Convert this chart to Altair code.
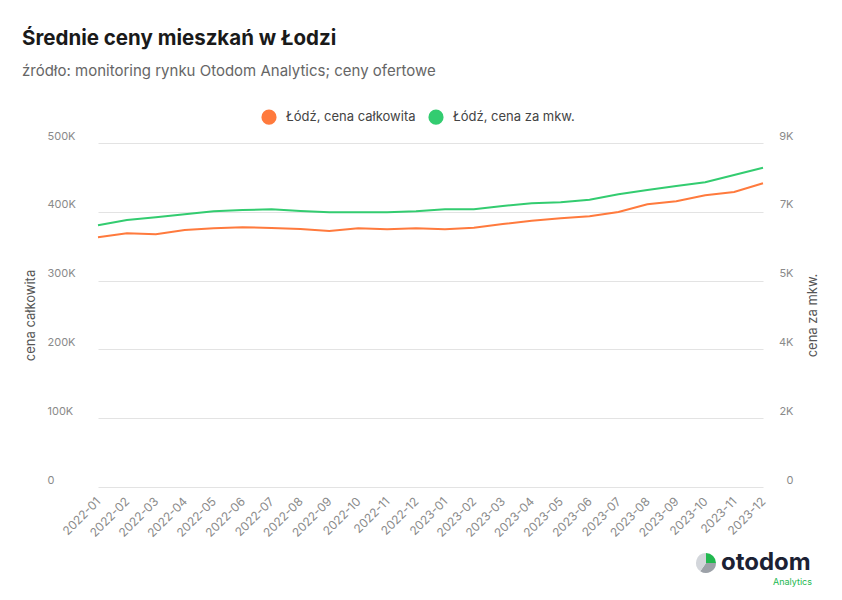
import altair as alt
import pandas as pd

months = ["2022-01","2022-02","2022-03","2022-04","2022-05","2022-06","2022-07","2022-08",
          "2022-09","2022-10","2022-11","2022-12","2023-01","2023-02","2023-03","2023-04",
          "2023-05","2023-06","2023-07","2023-08","2023-09","2023-10","2023-11","2023-12"]
total_price = [362900, 368800, 367300, 373500, 376000, 377500, 376500, 375000,
               372100, 376000, 374500, 376000, 374500, 376900, 382300, 387100,
               390500, 393500, 399700, 410900, 415200, 424000, 428800, 441400]
sqm_price = [6846, 6985, 7055, 7134, 7212, 7246, 7265, 7220,
             7186, 7186, 7186, 7212, 7265, 7265, 7351, 7422,
             7448, 7516, 7657, 7770, 7874, 7971, 8162, 8353]
series_names = ["Łódź, cena całkowita", "Łódź, cena za mkw."]
series_colors = ["#ff7a3d", "#33cc70"]
left_ticks = [0, 100000, 200000, 300000, 400000, 500000]
right_ticks = [0, 1800, 3600, 5400, 7200, 9000]
title_text = "Średnie ceny mieszkań w Łodzi"
subtitle_text = "źródło: monitoring rynku Otodom Analytics; ceny ofertowe"
logo_word = "otodom"
logo_sub = "Analytics"
logo_slices = [(0, 90, "#22b84f"), (90, 215, "#9ca1a8"), (215, 360, "#d3d6db")]

FONT = "Inter"
W, H = 746, 344

df = pd.DataFrame({
    "month": months * 2,
    "value_total": total_price + [None] * len(months),
    "value_sqm": [None] * len(months) + sqm_price,
    "series": [series_names[0]] * len(months) + [series_names[1]] * len(months),
})

xenc = alt.X("month:O", sort=months,
             scale=alt.Scale(type="point", range=[51, 716], padding=0),
             axis=alt.Axis(title=None, labelAngle=-45, labelAlign="right", labelBaseline="middle",
                           labelPadding=12, ticks=False, domain=False, grid=False,
                           labelFont=FONT, labelFontSize=12, labelColor="#8a8a8a",
                           labelOverlap=False))

stroke = alt.Stroke("series:N", scale=alt.Scale(domain=series_names, range=series_colors), legend=None)

left = alt.Chart(df).transform_filter("datum.value_total != null").mark_line(strokeWidth=2).encode(
    x=xenc,
    y=alt.Y("value_total:Q", scale=alt.Scale(domain=[0, 500000]),
            axis=alt.Axis(values=left_ticks, title="cena całkowita", orient="left",
                          labelExpr="datum.value == 0 ? '0' : format(datum.value/1000, 'd') + 'K'",
                          labelAlign="left", labelBaseline="alphabetic", labelPadding=0,
                          labelOffset=-4, ticks=False, tickSize=0, domain=False,
                          grid=True, gridColor="#e3e3e3", gridWidth=1,
                          labelFont=FONT, labelFontSize=11, labelColor="#8a8a8a",
                          labelFlush=False, labelOverlap=False, labelBound=False,
                          titleFont=FONT, titleFontSize=13, titleFontWeight="normal",
                          titleColor="#555555", titleX=-17, titleY=H/2, titleAngle=-90,
                          titleAlign="center", titleBaseline="middle")),
    stroke=stroke,
)

right = alt.Chart(df).transform_filter("datum.value_sqm != null").mark_line(strokeWidth=2).encode(
    x=xenc,
    y=alt.Y("value_sqm:Q", scale=alt.Scale(domain=[0, 9000]),
            axis=alt.Axis(values=right_ticks, title="cena za mkw.", orient="right",
                          labelExpr="datum.value == 0 ? '0' : format(datum.value/1000, '.0f') + 'K'",
                          labelAlign="right", labelBaseline="alphabetic", labelPadding=0,
                          labelOffset=-4, ticks=False, tickSize=0, domain=False, grid=False,
                          labelFont=FONT, labelFontSize=11, labelColor="#8a8a8a",
                          labelFlush=False, labelOverlap=False, labelBound=False,
                          titleFont=FONT, titleFontSize=13, titleFontWeight="normal",
                          titleColor="#555555", titleX=19, titleY=H/2, titleAngle=-90,
                          titleAlign="center", titleBaseline="middle")),
    stroke=stroke,
)

legend_pts = alt.Chart(df).transform_filter("datum.value_total != null").mark_point(
    filled=True, opacity=0, size=0).encode(
    x=xenc,
    y=alt.Y("value_total:Q", scale=alt.Scale(domain=[0, 500000]), axis=None),
    fill=alt.Fill("series:N", scale=alt.Scale(domain=series_names, range=series_colors),
                  legend=alt.Legend(title=None, orient="none", direction="horizontal",
                                    legendX=214, legendY=-34, symbolType="circle",
                                    symbolSize=230, symbolStrokeWidth=0, symbolOpacity=1,
                                    labelFont=FONT, labelFontSize=13, labelColor="#444444",
                                    labelOffset=9, columnPadding=12)),
)

one = pd.DataFrame({"t": [title_text], "s": [subtitle_text], "w": [logo_word], "a": [logo_sub]})

title = alt.Chart(one).mark_text(align="left", baseline="alphabetic", font=FONT, fontSize=20.5,
                                 fontWeight="bold", color="#1a1a1a").encode(
    x=alt.value(-25), y=alt.value(-98), text="t:N")
subtitle = alt.Chart(one).mark_text(align="left", baseline="alphabetic", font=FONT, fontSize=15,
                                    color="#666666").encode(
    x=alt.value(-25), y=alt.value(-67), text="s:N")
logo_w = alt.Chart(one).mark_text(align="left", baseline="alphabetic", font=FONT, fontSize=24,
                                  fontWeight="bold", color="#1c2133").encode(
    x=alt.value(674), y=alt.value(427), text="w:N")
logo_a = alt.Chart(one).mark_text(align="right", baseline="alphabetic", font=FONT, fontSize=9,
                                  color="#22b84f").encode(
    x=alt.value(765), y=alt.value(442), text="a:N")

slices = pd.DataFrame({"t0": [s[0] for s in logo_slices], "t1": [s[1] for s in logo_slices],
                       "c": [s[2] for s in logo_slices]})
icon = alt.Chart(slices).mark_arc(radius=10).encode(
    x=alt.value(659), y=alt.value(420),
    theta=alt.Theta("r0:Q", scale=None), theta2=alt.Theta2("r1:Q"),
    fill=alt.Fill("c:N", scale=None, legend=None),
).transform_calculate(r0="datum.t0 * PI / 180", r1="datum.t1 * PI / 180")

chart = alt.layer(left, right, legend_pts, title, subtitle, logo_w, logo_a, icon).resolve_scale(
    y="independent", fill="independent").properties(
    width=W, height=H,
    autosize=alt.AutoSizeParams(type="none"),
    padding={"left": 39, "top": 135, "right": 35, "bottom": 104},
).configure_view(stroke=None)

chart.save("out.html", embed_options={"renderer": "svg", "actions": False})
